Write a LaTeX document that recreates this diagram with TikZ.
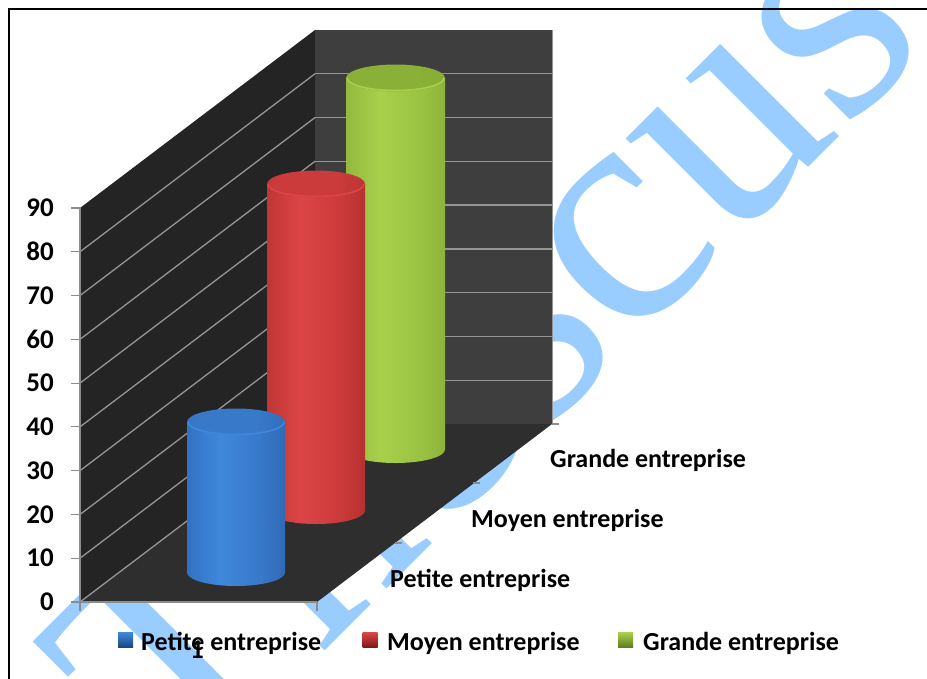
\documentclass[tikz,border=0pt]{standalone}
\usepackage{fontspec}
\setmainfont{Carlito}
\newfontfamily\wmfont{Liberation Serif}
\definecolor{wmblue}{HTML}{99CCFF}
\definecolor{leftwall}{HTML}{242424}
\definecolor{backwall}{HTML}{3E3E3E}
\definecolor{floorc}{HTML}{2E2E2E}
\definecolor{gridc}{HTML}{959595}
\definecolor{axisc}{HTML}{8C8C8C}
% blue
\definecolor{bA}{HTML}{1A4580}\definecolor{bB}{HTML}{2C68B8}\definecolor{bC}{HTML}{3F88DC}
\definecolor{bD}{HTML}{3879C9}\definecolor{bE}{HTML}{285EA8}\definecolor{bF}{HTML}{1A4178}
% red
\definecolor{rA}{HTML}{7A1818}\definecolor{rB}{HTML}{B52F2F}\definecolor{rC}{HTML}{DC4545}
\definecolor{rD}{HTML}{CC3B3B}\definecolor{rE}{HTML}{A52929}\definecolor{rF}{HTML}{741616}
% green
\definecolor{gA}{HTML}{5E7C1C}\definecolor{gB}{HTML}{8AB038}\definecolor{gC}{HTML}{A8D04B}
\definecolor{gD}{HTML}{9BC343}\definecolor{gE}{HTML}{82A834}\definecolor{gF}{HTML}{5A781B}
\pgfdeclarehorizontalshading{bluebody}{100bp}{color(0bp)=(bA); color(18bp)=(bB); color(42bp)=(bC); color(62bp)=(bD); color(85bp)=(bE); color(100bp)=(bF)}
\pgfdeclarehorizontalshading{redbody}{100bp}{color(0bp)=(rA); color(18bp)=(rB); color(42bp)=(rC); color(62bp)=(rD); color(85bp)=(rE); color(100bp)=(rF)}
\pgfdeclarehorizontalshading{greenbody}{100bp}{color(0bp)=(gA); color(18bp)=(gB); color(42bp)=(gC); color(62bp)=(gD); color(85bp)=(gE); color(100bp)=(gF)}
\pgfdeclarehorizontalshading{bluetop}{100bp}{color(0bp)=(bE); color(30bp)=(bD); color(60bp)=(bD); color(100bp)=(bE)}
\pgfdeclarehorizontalshading{redtop}{100bp}{color(0bp)=(rE); color(30bp)=(rD); color(60bp)=(rD); color(100bp)=(rE)}
\pgfdeclarehorizontalshading{greentop}{100bp}{color(0bp)=(gE); color(30bp)=(gB); color(60bp)=(gB); color(100bp)=(gE)}
\newcommand\mycyl[7]{% cx, r, ytop, ybot, body, top, rim
  \shade[shading=#5] (#1-#2,#3) -- (#1-#2,#4)
     arc[start angle=180, delta angle=-180, x radius=#2, y radius=13.5]
     -- (#1+#2,#3) -- cycle;
  \shade[shading=#6] (#1,#3) ellipse[x radius=#2, y radius=13.5];
  \draw[#7, line width=1.6pt] (#1-#2+1,#3) arc[start angle=180, delta angle=-180, x radius=#2-1, y radius=12.5];
}
\begin{document}
\begin{tikzpicture}[x=1pt,y=-1pt,
  wm/.style={text=wmblue, font=\wmfont\fontsize{325}{325}\selectfont, inner sep=0pt},
  lab/.style={font=\bfseries\fontsize{26}{28}\selectfont, inner sep=0pt, text=black},
  ylab/.style={font=\bfseries\fontsize{27}{28}\selectfont, inner sep=0pt, text=black},
  grid/.style={draw=gridc, line width=1.3pt},
  axisl/.style={draw=axisc, line width=1.2pt},
  legsq/.style={minimum size=15pt, inner sep=0pt}]
\useasboundingbox (0,0) rectangle (927,678);
\clip (0,0) rectangle (927,678);
\fill[white] (0,0) rectangle (927,678);
% watermark
\node[wm, anchor=base west, rotate=45] (wm) at (179.6,796.2) {Thescus};
% frame
\draw[line width=2pt] (8.5,700) -- (8.5,8.5) -- (940,8.5);
% walls and floor
\fill[leftwall] (80,602) -- (80,208) -- (315,30) -- (315,424) -- cycle;
\fill[backwall] (315,30) rectangle (552,424);
\fill[floorc] (80,602) -- (317,602) -- (552,424) -- (315,424) -- cycle;
\draw[gridc, line width=1pt] (552,30) -- (552,424);
% gridlines
\foreach \k in {1,...,8} \draw[grid] (315,{424-43.78*\k}) -- (552,{424-43.78*\k});
\foreach \k in {0,...,8} \draw[grid] (80,{602-43.78*\k}) -- (315,{424-43.78*\k});
% axes
\draw[axisl] (80,208) -- (80,602) -- (317,602);
\foreach \k in {0,...,9} \draw[axisl] (71,{602-43.78*\k}) -- (80,{602-43.78*\k});
\draw[axisl] (80,602) -- (80,611);
\draw[axisl] (317,602) -- (317,611);
\draw[axisl] (395,543) -- (402,543);
\draw[axisl] (473,483) -- (480,483);
\draw[axisl] (552,424) -- (559,424);
% y labels
\foreach \v in {0,10,...,90}
  \node[ylab, anchor=east] (y\v) at (54,{602-4.378*\v}) {\v};
% cylinders (back to front)
\mycyl{395.5}{49.5}{78}{449.5}{greenbody}{greentop}{gC}
\mycyl{316}{49}{184}{510.5}{redbody}{redtop}{rC}
\mycyl{236}{49}{422}{572.5}{bluebody}{bluetop}{bC}
% category label
\node[ylab, anchor=base] (cat1) at (197,658) {1};
% depth axis labels
\node[lab, anchor=base west] (dg) at (550,467) {Grande entreprise};
\node[lab, anchor=base west] (dm) at (471,527) {Moyen entreprise};
\node[lab, anchor=base west] (dp) at (390,587) {Petite entreprise};
% legend
\node[legsq, top color=bC, bottom color=bA] (lb) at (125.5,640) {};
\node[lab, anchor=base west] (lbt) at (141,650) {Petite entreprise};
\node[legsq, top color=rC, bottom color=rA] (lr) at (370,640) {};
\node[lab, anchor=base west] (lrt) at (387,650) {Moyen entreprise};
\node[legsq, top color=gC, bottom color=gA] (lg) at (625.5,640) {};
\node[lab, anchor=base west] (lgt) at (643,650) {Grande entreprise};
\end{tikzpicture}
\end{document}
